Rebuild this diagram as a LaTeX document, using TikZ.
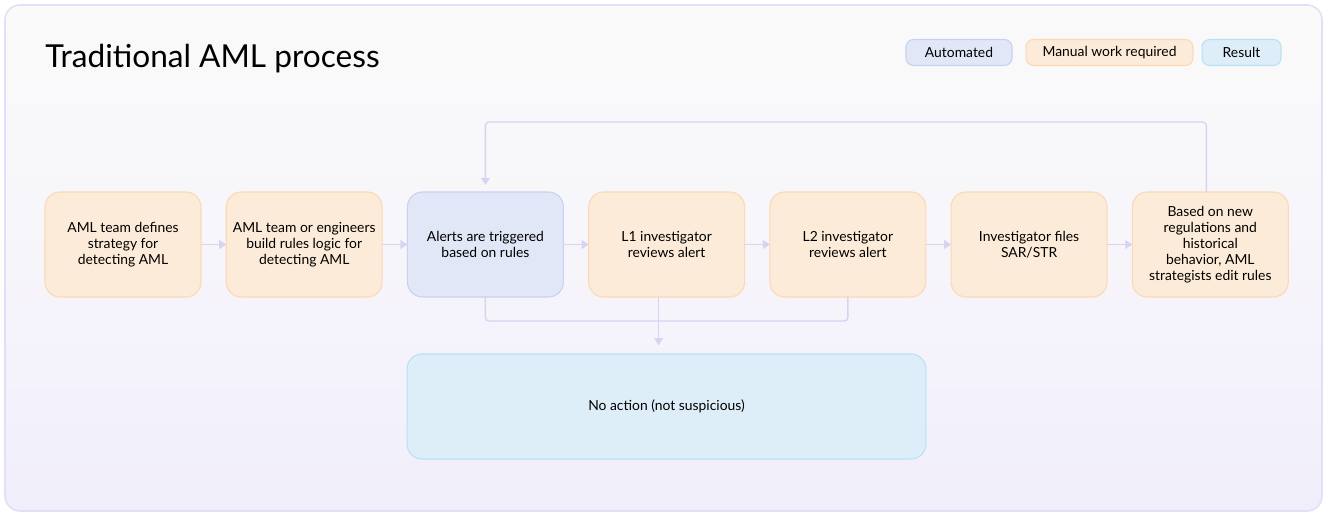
\documentclass[tikz,border=0pt]{standalone}
\usepackage{fontspec}
\setmainfont{Lato}
\usetikzlibrary{positioning,arrows.meta}
\definecolor{amlLine}{RGB}{214,212,240}
\definecolor{amlFrame}{RGB}{226,223,247}
\definecolor{amlTop}{RGB}{250,250,250}
\definecolor{amlBottom}{RGB}{241,238,251}
\definecolor{amlOrange}{RGB}{252,235,216}
\definecolor{amlOrangeEdge}{RGB}{250,217,180}
\definecolor{amlBlue}{RGB}{226,231,248}
\definecolor{amlBlueEdge}{RGB}{200,208,243}
\definecolor{amlCyan}{RGB}{221,238,249}
\definecolor{amlCyanEdge}{RGB}{185,224,245}

\begin{document}
\begin{tikzpicture}[x=0.02cm, y=-0.02cm, >={Triangle[length=4pt, width=5pt]},
  stepbox/.style={rounded corners=0.3cm, line width=0.6pt, outer sep=0pt, minimum width=3.12cm, minimum height=2.1cm, align=center, font=\fontsize{7.9}{9.1}\selectfont},
  manual/.style={stepbox, fill=amlOrange, draw=amlOrangeEdge},
  auto/.style={stepbox, fill=amlBlue, draw=amlBlueEdge},
  tag/.style={rounded corners=0.15cm, line width=0.6pt, outer sep=0pt, minimum height=0.52cm, font=\fontsize{7.9}{9}\selectfont},
  flow/.style={draw=amlLine, line width=0.8pt, rounded corners=2pt}]
  \useasboundingbox (0,0) rectangle (1324,513);
  \shade[top color=amlTop, bottom color=amlBottom, middle color=amlTop!60!amlBottom, rounded corners=0.3cm] (5,5) rectangle (1322,511);
  \draw[amlFrame, line width=0.9pt, rounded corners=0.3cm] (5,5) rectangle (1322,511);

  \node[anchor=base west, inner sep=0pt, font=\fontsize{18}{21}\selectfont] (title) at (45,68) {Traditional AML process};
  \node[tag, fill=amlBlue, draw=amlBlueEdge, minimum width=2.12cm] (keyauto) at (959,52.5) {Automated};
  \node[tag, fill=amlOrange, draw=amlOrangeEdge, minimum width=3.34cm] (keymanual) at (1109.5,52.5) {Manual work required};
  \node[tag, fill=amlCyan, draw=amlCyanEdge, minimum width=1.58cm] (keyresult) at (1241.5,52.5) {Result};

  \node[manual] (define) at (123,244.5) {AML team defines\\strategy for\\detecting AML};
  \node[manual, right=0.505cm of define] (build) {AML team or engineers\\build rules logic for\\detecting AML};
  \node[auto, right=0.505cm of build] (alerts) {Alerts are triggered\\based on rules};
  \node[manual, right=0.505cm of alerts] (lone) {L1 investigator\\reviews alert};
  \node[manual, right=0.505cm of lone] (ltwo) {L2 investigator\\reviews alert};
  \node[manual, right=0.505cm of ltwo] (files) {Investigator files\\SAR/STR};
  \node[manual, right=0.505cm of files] (edit) {Based on new\\regulations and\\historical\\behavior, AML\\strategists edit rules};
  \node[stepbox, fill=amlCyan, draw=amlCyanEdge, minimum width=10.38cm] (noaction) at (666.5,406.5) {No action (not suspicious)};

  \draw[flow, ->] (define) -- (build);
  \draw[flow, ->] (build) -- (alerts);
  \draw[flow, ->] (alerts) -- (lone);
  \draw[flow, ->] (lone) -- (ltwo);
  \draw[flow, ->] (ltwo) -- (files);
  \draw[flow, ->] (files) -- (edit);
  % loop back to the rules
  \draw[flow, ->, shorten >=4pt] ([xshift=-0.08cm]edit.north) -- ++(0,-70) -| (alerts.north);
  % not suspicious
  \draw[flow] (alerts.south) -- ++(0,24) -| (ltwo.south);
  \draw[flow, ->, shorten >=5pt] ([xshift=-0.16cm]lone.south) -- ([xshift=-0.16cm]lone.south |- noaction.north);
\end{tikzpicture}
\end{document}
